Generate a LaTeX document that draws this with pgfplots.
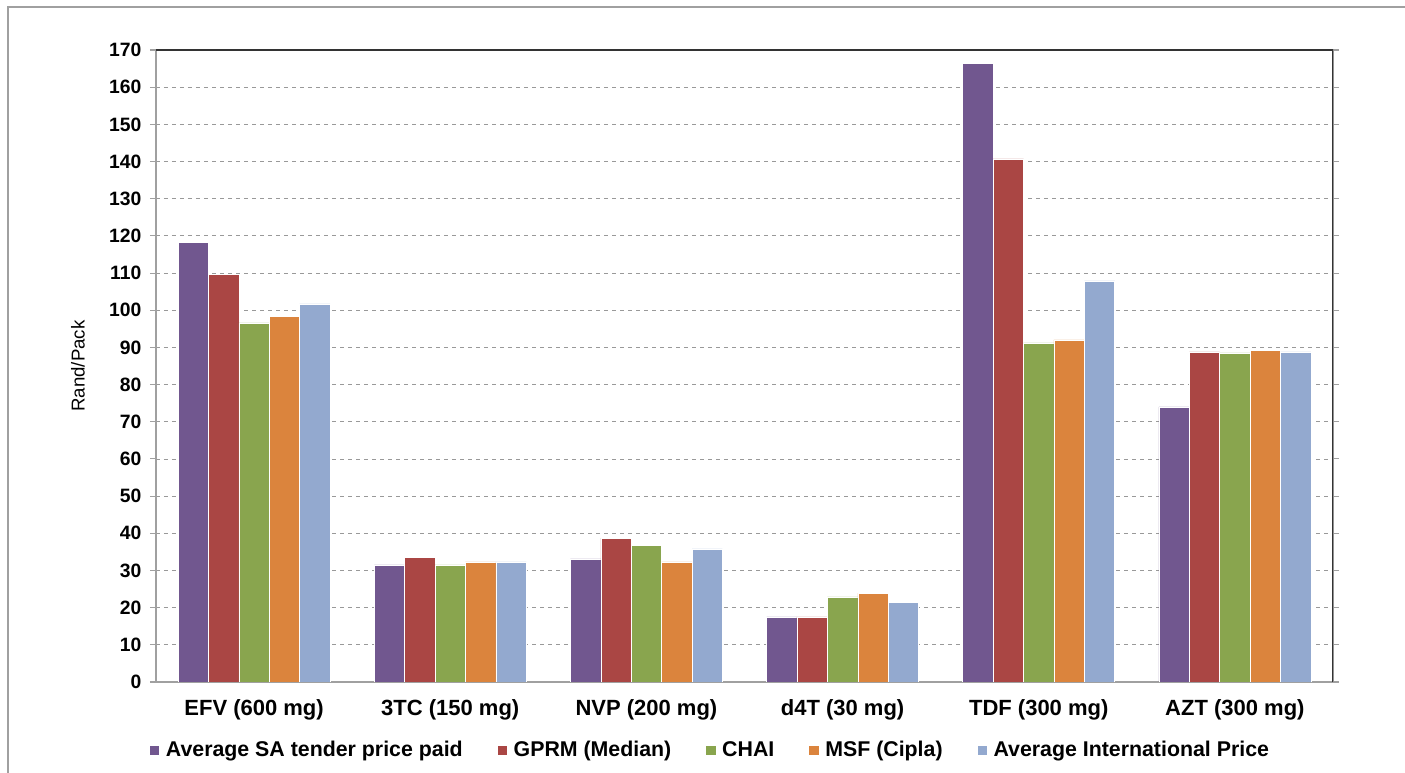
\documentclass[border=0pt]{standalone}
\usepackage{pgfplots}
\pgfplotsset{compat=1.18}
\usepackage{fontspec}
\setmainfont{Liberation Sans}
\definecolor{cPur}{HTML}{71578F}
\definecolor{cRed}{HTML}{AA4644}
\definecolor{cGrn}{HTML}{89A54E}
\definecolor{cOra}{HTML}{DB843D}
\definecolor{cBlu}{HTML}{93A9CF}
\definecolor{axgray}{HTML}{A0A0A0}
\begin{document}
\begin{tikzpicture}
\begin{axis}[
  at={(0,0)}, anchor=south west,
  scale only axis, width=882.75pt, height=474pt,
  ybar=0pt, bar width=22.8pt,
  xmin=-0.5, xmax=5.5, ymin=0, ymax=170,
  xtick={0,1,2,3,4,5},
  xticklabels={EFV (600 mg),3TC (150 mg),NVP (200 mg),d4T (30 mg),TDF (300 mg),AZT (300 mg)},
  xticklabel style={font=\fontsize{16.5}{18}\bfseries\selectfont, yshift=-5pt},
  major x tick style={draw=none},
  ytick distance=10,
  yticklabel style={font=\fontsize{14.5}{16}\bfseries\selectfont, xshift=-3pt},
  /pgf/number format/assume math mode=true,
  tick align=outside,
  major tick length=4.5pt,
  ytick style={axgray, line width=0.8pt},
  ymajorgrids,
  grid style={dashed, gray!80, line width=0.6pt},
  axis line style={axgray, line width=1pt},
  ylabel={Rand/Pack},
  ylabel style={font=\fontsize{14}{15}\selectfont, at={(rel axis cs:0,0.5)}, anchor=center, yshift=58.5pt},
  legend columns=5,
  legend style={draw=none, fill=none, at={(rel axis cs:0.471,0)}, anchor=center, yshift=-51pt,
    font=\fontsize{16}{18}\bfseries\selectfont,
    /tikz/every odd column/.append style={column sep=2.5pt},
    /tikz/every even column/.append style={column sep=23.5pt}},
  legend image code/.code={\fill[#1] (0pt,-3.9pt) rectangle (7.8pt,3.9pt);},
  every axis plot/.append style={draw=white, line width=0.4pt},
]
\addplot[fill=cPur] coordinates {(0,118.3) (1,31.5) (2,33.1) (3,17.5) (4,166.5) (5,74.0)};
\addplot[fill=cRed] coordinates {(0,109.7) (1,33.6) (2,38.7) (3,17.5) (4,140.7) (5,88.8)};
\addplot[fill=cGrn] coordinates {(0,96.6) (1,31.5) (2,36.8) (3,22.9) (4,91.2) (5,88.5)};
\addplot[fill=cOra] coordinates {(0,98.4) (1,32.3) (2,32.3) (3,23.9) (4,92.0) (5,89.3)};
\addplot[fill=cBlu] coordinates {(0,101.7) (1,32.3) (2,35.8) (3,21.5) (4,107.9) (5,88.8)};
\legend{Average SA tender price paid,GPRM (Median),CHAI,MSF (Cipla),Average International Price}
\draw[black!80, line width=1.2pt] (rel axis cs:0,1) -- (rel axis cs:1,1) -- (rel axis cs:1,0);
\end{axis}
\path[use as bounding box] (-117pt,-68.25pt) rectangle (936.75pt,511.5pt);
\draw[axgray, line width=1.2pt] (-111pt,-68.25pt) -- (-111pt,506.25pt) -- (936.75pt,506.25pt);
\end{tikzpicture}
\end{document}
